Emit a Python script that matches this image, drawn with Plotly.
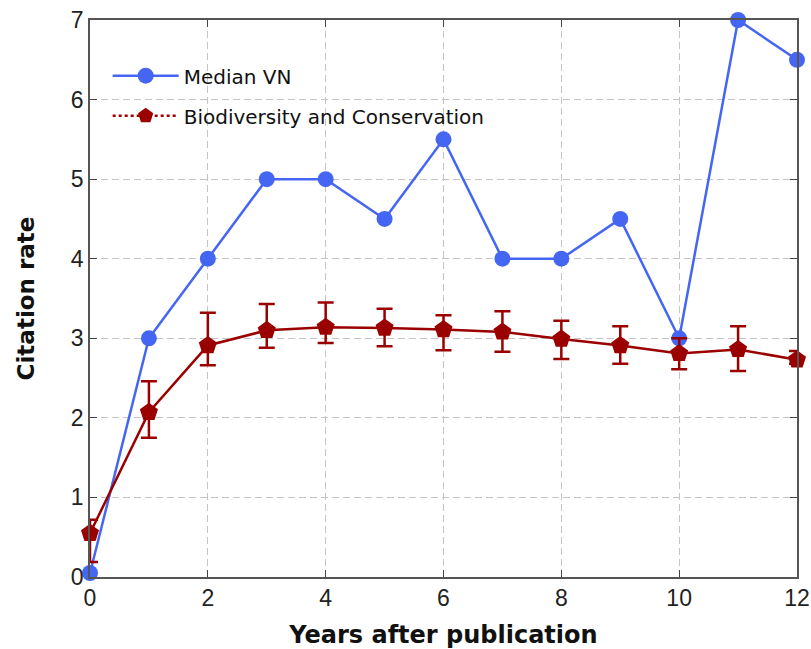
import plotly.graph_objects as go

years = [0, 1, 2, 3, 4, 5, 6, 7, 8, 9, 10, 11, 12]
median_vn = [0.05, 3.0, 4.0, 5.0, 5.0, 4.5, 5.5, 4.0, 4.0, 4.5, 3.0, 7.0, 6.5]
bio_cons = [0.55, 2.07, 2.91, 3.10, 3.14, 3.13, 3.11, 3.08, 2.99, 2.91, 2.81, 2.86, 2.73]
bio_upper = [0.72, 2.46, 3.32, 3.43, 3.45, 3.37, 3.29, 3.34, 3.22, 3.15, 3.00, 3.15, 2.84]
bio_lower = [0.19, 1.75, 2.66, 2.88, 2.94, 2.90, 2.85, 2.83, 2.74, 2.68, 2.61, 2.59, 2.68]

x_ticks = [0, 2, 4, 6, 8, 10, 12]
y_ticks = [0, 1, 2, 3, 4, 5, 6, 7]

BLUE = "#4466f2"
RED = "#9b0000"

err_plus = [u - v for u, v in zip(bio_upper, bio_cons)]
err_minus = [v - l for v, l in zip(bio_cons, bio_lower)]

fig = go.Figure()

fig.add_trace(go.Scatter(
    x=years, y=median_vn, mode="lines+markers", name="Median VN",
    legendgroup="a",
    line=dict(color=BLUE, width=2.5),
    marker=dict(symbol="circle", size=16, color=BLUE),
    cliponaxis=False,
))
fig.add_trace(go.Scatter(
    x=years, y=bio_cons, mode="lines+markers", showlegend=False,
    line=dict(color=RED, width=2.5),
    marker=dict(symbol="pentagon", size=19, color=RED),
    error_y=dict(type="data", array=err_plus, arrayminus=err_minus,
                 color=RED, thickness=2.5, width=8),
    cliponaxis=False,
))
# legend-only entry with dotted line as in the reference legend
fig.add_trace(go.Scatter(
    x=[None], y=[None], mode="lines+markers", name="Biodiversity and Conservation",
    legendgroup="b",
    line=dict(color=RED, width=2.5, dash="dot"),
    marker=dict(symbol="pentagon", size=19, color=RED),
))

axis_common = dict(
    showline=True, linecolor="#555555", linewidth=1.5, mirror="ticks",
    ticks="inside", ticklen=7, tickwidth=1.2, tickcolor="#444444",
    showgrid=True, gridcolor="#c4c4c4", griddash="7px,4px", gridwidth=1.3,
    zeroline=False, automargin=False,
    tickfont=dict(family="Liberation Sans, Arial, sans-serif", size=23, color="#222222"),
)

fig.update_xaxes(range=[0, 12], tickvals=x_ticks, **axis_common,
                 title=dict(text="<b>Years after publication</b>",
                            font=dict(family="DejaVu Sans", size=24, color="#111111"),
                            standoff=17))
fig.update_yaxes(range=[0, 7], tickvals=y_ticks, **axis_common,
                 title=dict(text="<b>Citation rate</b>",
                            font=dict(family="DejaVu Sans", size=23, color="#111111"),
                            standoff=30))

fig.update_layout(
    width=811, height=649,
    margin=dict(l=90, r=14, t=20, b=72),
    plot_bgcolor="white", paper_bgcolor="white",
    legend=dict(x=0.025, y=0.935, xanchor="left", yanchor="top",
                bgcolor="rgba(255,255,255,0)", borderwidth=0,
                font=dict(family="DejaVu Sans", size=20, color="#111111"),
                itemwidth=66, tracegroupgap=11),
)

fig.write_html("out.html", config={"displayModeBar": False},
               post_script="document.body.style.margin='0';document.body.style.overflow='hidden';")
